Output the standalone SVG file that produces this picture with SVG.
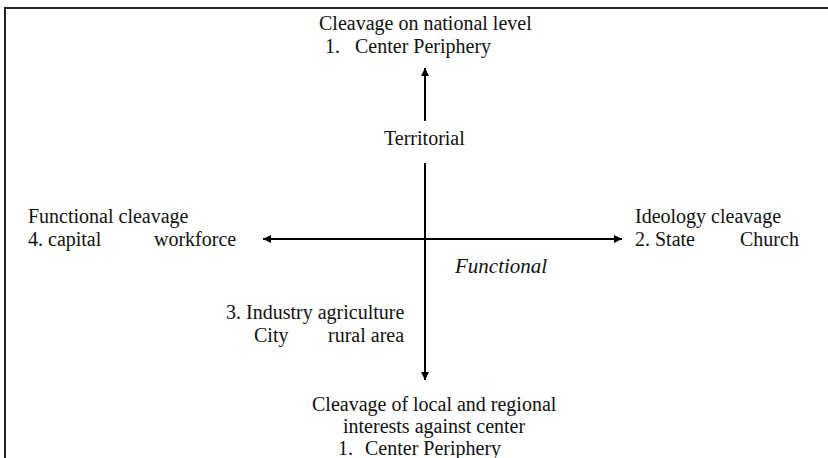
<svg xmlns="http://www.w3.org/2000/svg" width="828" height="458" viewBox="0 0 828 458">
<defs>
<marker id="ah" viewBox="0 0 10 10" refX="10" refY="5" markerWidth="5" markerHeight="4" markerUnits="strokeWidth" orient="auto">
<path d="M0,0 L10,5 L0,10 z" fill="#000"/>
</marker>
</defs>
<rect width="828" height="458" fill="#fff"/>
<path d="M5,458 L5,8 L828,8" stroke="#222" stroke-width="2" fill="none"/>
<g id="connectors" stroke="#000" stroke-width="2" fill="none">
<line x1="425" y1="121" x2="425" y2="68" marker-end="url(#ah)"/>
<line x1="425" y1="163" x2="425" y2="380" marker-end="url(#ah)"/>
<line x1="425" y1="239" x2="263" y2="239" marker-end="url(#ah)"/>
<line x1="425" y1="239" x2="622" y2="239" marker-end="url(#ah)"/>
</g>
<g id="top" fill="#111" font-family="Liberation Serif, serif" font-size="20">
<text x="319" y="30">Cleavage on national level</text>
<text x="325" y="53">1.</text>
<text x="355" y="53">Center Periphery</text>
</g>
<g id="territorial" fill="#111" font-family="Liberation Serif, serif" font-size="20"><text x="384" y="145">Territorial</text></g>
<g id="left" fill="#111" font-family="Liberation Serif, serif" font-size="20">
<text x="28" y="223">Functional cleavage</text>
<text x="28" y="246">4. capital</text>
<text x="154" y="246">workforce</text>
</g>
<g id="right" fill="#111" font-family="Liberation Serif, serif" font-size="20">
<text x="635" y="223">Ideology cleavage</text>
<text x="635" y="246">2. State</text>
<text x="740" y="246">Church</text>
</g>
<g id="functional" fill="#111" font-family="Liberation Serif, serif" font-size="21"><text x="455" y="273" font-style="italic">Functional</text></g>
<g id="industry" fill="#111" font-family="Liberation Serif, serif" font-size="20">
<text x="226" y="319">3. Industry agriculture</text>
<text x="254" y="342">City</text>
<text x="328" y="342">rural area</text>
</g>
<g id="bottom" fill="#111" font-family="Liberation Serif, serif" font-size="20">
<text x="312" y="411">Cleavage of local and regional</text>
<text x="343" y="433">interests against center</text>
<text x="338" y="455">1.</text>
<text x="365" y="455">Center Periphery</text>
</g>
</svg>
